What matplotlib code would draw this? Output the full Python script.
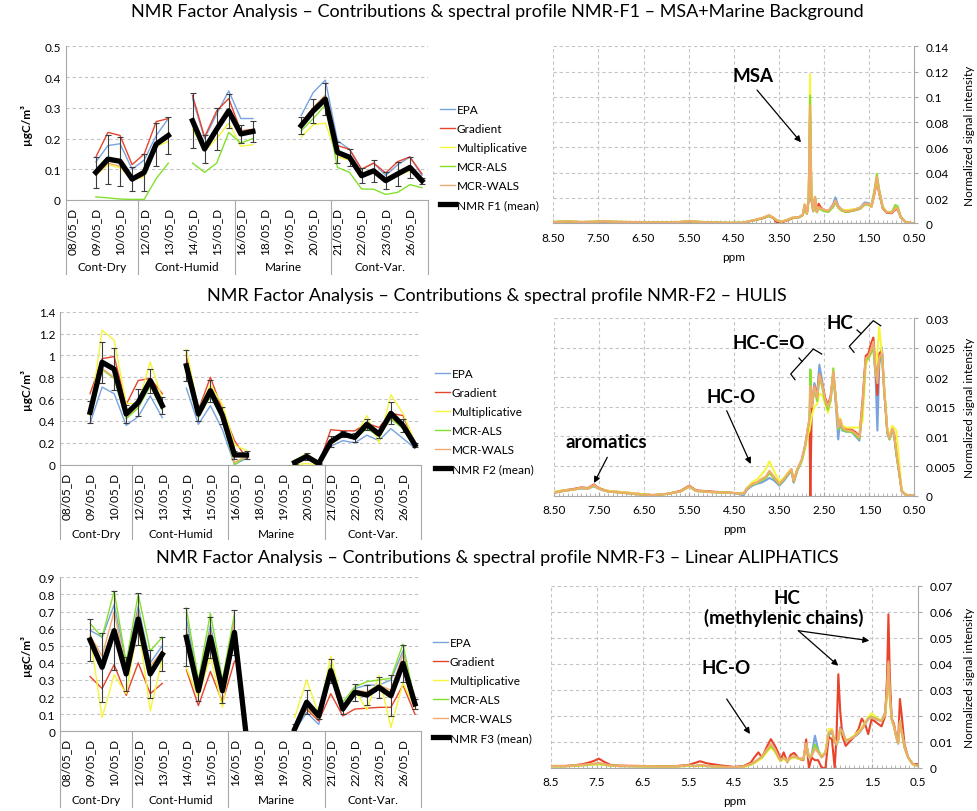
import matplotlib.pyplot as plt
import numpy as np
from matplotlib.lines import Line2D
from matplotlib.patches import FancyArrowPatch
from matplotlib.ticker import FuncFormatter, MultipleLocator

plt.rcParams['font.family'] = ['Lato', 'DejaVu Sans']

N = None

# categories of the contribution charts
dates = ['08/05_D', '08/05_N', '09/05_D', '09/05_N', '10/05_D', '10/05_N',
         '12/05_D', '12/05_N', '13/05_D', '13/05_N', '14/05_D', '14/05_N',
         '15/05_D', '15/05_N', '16/05_D', '16/05_N', '18/05_D', '18/05_N',
         '19/05_D', '19/05_N', '20/05_D', '20/05_N', '21/05_D', '21/05_N',
         '22/05_D', '22/05_N', '23/05_D', '23/05_N', '26/05_D', '26/05_N']
groups = ['Cont-Dry', 'Cont-Humid', 'Marine', 'Cont-Var.']
group_sizes = [6, 8, 8, 8]
methods = ['EPA', 'Gradient', 'Multiplicative', 'MCR-ALS', 'MCR-WALS']
colors = ['#78a3df', '#e8432b', '#f5f53a', '#84e02c', '#f2ab6e']

# NMR-F1 contributions (ugC/m3)
f1_epa = [N, N, 0.124, 0.177, 0.183, 0.10, 0.13, 0.21, 0.265, N, 0.33, 0.20, 0.28, 0.355, 0.265,
          0.265, N, N, N, 0.275, 0.35, 0.39, 0.193, 0.165, 0.10, 0.12, 0.08, 0.115, 0.14, 0.08]
f1_grad = [N, N, 0.14, 0.22, 0.21, 0.115, 0.15, 0.255, 0.265, N, 0.34, 0.205, 0.29, 0.33, 0.225,
           0.23, N, N, N, 0.25, 0.30, 0.34, 0.177, 0.165, 0.10, 0.12, 0.088, 0.125, 0.14, 0.085]
f1_mult = [N, N, 0.08, 0.115, 0.105, 0.065, 0.075, 0.175, 0.19, N, 0.23, 0.16, 0.20, 0.25, 0.175,
           0.18, N, N, N, 0.205, 0.245, 0.25, 0.14, 0.13, 0.08, 0.09, 0.06, 0.08, 0.095, 0.063]
f1_als = [N, N, 0.01, 0.007, 0.003, 0.002, 0.002, 0.07, 0.12, N, 0.12, 0.09, 0.12, 0.22, 0.185,
          0.20, N, N, N, 0.225, 0.265, 0.31, 0.106, 0.09, 0.036, 0.035, 0.018, 0.025, 0.05, 0.04]
f1_wals = [N, N, 0.08, 0.12, 0.11, 0.063, 0.08, 0.18, 0.20, N, 0.25, 0.165, 0.23, 0.28, 0.225,
           0.225, N, N, N, 0.25, 0.30, 0.34, 0.16, 0.14, 0.08, 0.10, 0.07, 0.09, 0.10, 0.07]
f1_mean = [N, N, 0.09, 0.133, 0.126, 0.068, 0.09, 0.182, 0.21, N, 0.258, 0.166, 0.23, 0.29, 0.215,
           0.223, N, N, N, 0.242, 0.29, 0.328, 0.155, 0.139, 0.079, 0.095, 0.063, 0.085, 0.106, 0.063]
f1_err = [N, N, 0.05, 0.08, 0.08, 0.04, 0.06, 0.07, 0.06, N, 0.09, 0.045, 0.068, 0.055, 0.03,
          0.033, N, N, N, 0.028, 0.04, 0.053, 0.035, 0.027, 0.024, 0.035, 0.027, 0.04, 0.033, 0.01]

# NMR-F2 contributions
f2_epa = [N, N, 0.38, 0.71, 0.65, 0.36, 0.44, 0.63, 0.43, N, 0.70, 0.37, 0.54, 0.32, 0.0,
          0.06, N, N, N, 0.01, 0.06, 0.0, 0.17, 0.22, 0.20, 0.27, 0.22, 0.33, 0.24, 0.15]
f2_grad = [N, N, 0.65, 0.97, 0.99, 0.55, 0.77, 0.79, 0.65, N, 1.0, 0.50, 0.80, 0.50, 0.22,
           0.06, N, N, N, 0.02, 0.07, 0.0, 0.32, 0.31, 0.31, 0.38, 0.34, 0.47, 0.45, 0.20]
f2_mult = [N, N, 0.45, 1.23, 1.14, 0.56, 0.56, 0.94, 0.60, N, 1.06, 0.50, 0.73, 0.55, 0.18,
           0.13, N, N, N, 0.0, 0.01, 0.0, 0.18, 0.27, 0.25, 0.45, 0.20, 0.64, 0.47, 0.20]
f2_als = [N, N, 0.46, 0.87, 0.79, 0.42, 0.52, 0.72, 0.50, N, 0.90, 0.43, 0.63, 0.42, 0.0,
          0.08, N, N, N, 0.04, 0.10, 0.0, 0.20, 0.26, 0.24, 0.33, 0.26, 0.42, 0.33, 0.17]
f2_wals = [N, N, 0.47, 0.88, 0.80, 0.44, 0.54, 0.74, 0.52, N, 0.90, 0.44, 0.65, 0.44, 0.02,
           0.08, N, N, N, 0.03, 0.08, 0.0, 0.20, 0.27, 0.25, 0.35, 0.27, 0.43, 0.35, 0.17]
f2_mean = [N, N, 0.48, 0.937, 0.875, 0.464, 0.57, 0.77, 0.54, N, 0.906, 0.464, 0.677, 0.45, 0.089,
           0.089, N, N, N, 0.02, 0.075, 0.01, 0.21, 0.28, 0.25, 0.37, 0.28, 0.47, 0.36, 0.18]
f2_err = [N, N, 0.10, 0.19, 0.19, 0.08, 0.12, 0.11, 0.08, N, 0.14, 0.06, 0.10, 0.08, 0.04,
          0.04, N, N, N, 0.01, 0.03, 0.005, 0.05, 0.03, 0.04, 0.05, 0.04, 0.10, 0.06, 0.02]

# NMR-F3 contributions
f3_epa = [N, N, 0.59, 0.55, 0.74, 0.40, 0.73, 0.40, 0.50, N, 0.66, 0.28, 0.62, 0.27, 0.65,
          N, N, N, N, 0.0, 0.11, 0.04, 0.33, 0.15, 0.25, 0.27, 0.27, 0.30, 0.47, 0.16]
f3_grad = [N, N, 0.32, 0.25, 0.39, 0.21, 0.40, 0.22, 0.28, N, 0.36, 0.15, 0.35, 0.17, 0.41,
           N, N, N, N, 0.02, 0.13, 0.06, 0.22, 0.09, 0.13, 0.135, 0.14, 0.14, 0.27, 0.10]
f3_mult = [N, N, 0.56, 0.08, 0.33, 0.22, 0.63, 0.12, 0.42, N, 0.37, 0.20, 0.44, 0.14, 0.58,
           N, N, N, N, 0.08, 0.30, 0.10, 0.44, 0.15, 0.24, 0.126, 0.325, 0.023, 0.282, 0.14]
f3_als = [N, N, 0.63, 0.55, 0.82, 0.40, 0.80, 0.47, 0.55, N, 0.72, 0.30, 0.69, 0.30, 0.69,
          N, N, N, N, 0.03, 0.14, 0.07, 0.387, 0.17, 0.26, 0.29, 0.30, 0.31, 0.51, 0.17]
f3_wals = [N, N, 0.56, 0.44, 0.70, 0.36, 0.70, 0.38, 0.47, N, 0.60, 0.25, 0.59, 0.25, 0.64,
           N, N, N, N, 0.01, 0.14, 0.07, 0.36, 0.14, 0.24, 0.23, 0.27, 0.24, 0.45, 0.16]
f3_mean = [N, N, 0.534, 0.374, 0.588, 0.335, 0.656, 0.335, 0.45, N, 0.55, 0.237, 0.55, 0.237, 0.578,
           -0.04, N, N, N, 0.013, 0.17, 0.09, 0.354, 0.13, 0.228, 0.212, 0.257, 0.208, 0.397, 0.16]
f3_err = [N, N, 0.125, 0.20, 0.23, 0.10, 0.15, 0.14, 0.10, N, 0.17, 0.06, 0.12, 0.07, 0.13,
          N, N, N, N, 0.03, 0.07, 0.02, 0.07, 0.03, 0.05, 0.06, 0.06, 0.12, 0.11, 0.03]

# NMR-F1 spectral profiles
ppm_f1 = [8.5, 8.2, 7.9, 7.6, 7.4, 7.2, 6.8, 6.4, 6.0, 5.7,
          5.5, 5.3, 5.0, 4.6, 4.3, 4.15, 4.0, 3.85, 3.72, 3.62,
          3.55, 3.45, 3.3, 3.2, 3.05, 2.97, 2.93, 2.88, 2.84, 2.81,
          2.78, 2.74, 2.70, 2.66, 2.62, 2.58, 2.5, 2.4, 2.3, 2.25,
          2.18, 2.1, 2.0, 1.85, 1.7, 1.6, 1.52, 1.45, 1.38, 1.33,
          1.28, 1.2, 1.12, 1.0, 0.92, 0.87, 0.8, 0.7, 0.6, 0.5]
s1_epa = [0.0010, 0.0014, 0.0010, 0.0011, 0.0016, 0.0012, 0.0010, 0.0008, 0.0007, 0.0009,
          0.0016, 0.0011, 0.0006, 0.0003, 0.0004, 0.0016, 0.0028, 0.0042, 0.0058, 0.0042,
          0.0022, 0.0012, 0.0028, 0.0043, 0.0050, 0.0068, 0.0145, 0.0080, 0.0190, 0.0900,
          0.0190, 0.0100, 0.0205, 0.0090, 0.0125, 0.0120, 0.0105, 0.0100, 0.0150, 0.0205,
          0.0135, 0.0108, 0.0098, 0.0108, 0.0125, 0.0165, 0.0160, 0.0135, 0.0245, 0.0360,
          0.0255, 0.0125, 0.0088, 0.0085, 0.0115, 0.0115, 0.0048, 0.0012, 0.0003, 0.0000]
s1_grad = [0.0009, 0.0013, 0.0009, 0.0011, 0.0016, 0.0011, 0.0009, 0.0008, 0.0006, 0.0009,
           0.0015, 0.0010, 0.0005, 0.0003, 0.0004, 0.0016, 0.0028, 0.0040, 0.0058, 0.0040,
           0.0008, 0.0005, 0.0025, 0.0040, 0.0048, 0.0065, 0.0140, 0.0075, 0.0190, 0.0850,
           0.0190, 0.0095, 0.0200, 0.0090, 0.0155, 0.0130, 0.0100, 0.0095, 0.0130, 0.0165,
           0.0125, 0.0100, 0.0090, 0.0100, 0.0115, 0.0150, 0.0150, 0.0130, 0.0235, 0.0340,
           0.0240, 0.0120, 0.0085, 0.0080, 0.0110, 0.0110, 0.0048, 0.0012, 0.0003, 0.0000]
s1_mult = [0.0012, 0.0016, 0.0011, 0.0013, 0.0019, 0.0013, 0.0011, 0.0009, 0.0008, 0.0011,
           0.0018, 0.0012, 0.0007, 0.0004, 0.0005, 0.0018, 0.0030, 0.0045, 0.0060, 0.0045,
           0.0025, 0.0013, 0.0030, 0.0045, 0.0050, 0.0070, 0.0150, 0.0080, 0.0220, 0.1180,
           0.0220, 0.0100, 0.0210, 0.0090, 0.0125, 0.0115, 0.0105, 0.0100, 0.0135, 0.0170,
           0.0125, 0.0108, 0.0105, 0.0110, 0.0120, 0.0150, 0.0150, 0.0130, 0.0245, 0.0360,
           0.0255, 0.0130, 0.0092, 0.0088, 0.0120, 0.0118, 0.0050, 0.0012, 0.0003, 0.0000]
s1_als = [0.0010, 0.0015, 0.0010, 0.0012, 0.0018, 0.0012, 0.0010, 0.0008, 0.0007, 0.0010,
          0.0017, 0.0012, 0.0006, 0.0003, 0.0004, 0.0017, 0.0028, 0.0042, 0.0062, 0.0043,
          0.0023, 0.0012, 0.0028, 0.0043, 0.0048, 0.0065, 0.0140, 0.0075, 0.0200, 0.1010,
          0.0200, 0.0095, 0.0200, 0.0085, 0.0120, 0.0110, 0.0095, 0.0090, 0.0130, 0.0175,
          0.0120, 0.0098, 0.0090, 0.0100, 0.0115, 0.0150, 0.0150, 0.0135, 0.0270, 0.0390,
          0.0270, 0.0130, 0.0090, 0.0088, 0.0145, 0.0135, 0.0055, 0.0012, 0.0003, 0.0000]
s1_wals = [0.0010, 0.0015, 0.0010, 0.0012, 0.0018, 0.0012, 0.0010, 0.0008, 0.0007, 0.0010,
           0.0018, 0.0012, 0.0006, 0.0003, 0.0004, 0.0018, 0.0030, 0.0045, 0.0065, 0.0045,
           0.0025, 0.0012, 0.0030, 0.0045, 0.0050, 0.0070, 0.0150, 0.0080, 0.0200, 0.0930,
           0.0200, 0.0100, 0.0210, 0.0090, 0.0130, 0.0120, 0.0105, 0.0100, 0.0140, 0.0180,
           0.0130, 0.0105, 0.0095, 0.0105, 0.0120, 0.0155, 0.0155, 0.0135, 0.0250, 0.0370,
           0.0260, 0.0130, 0.0090, 0.0085, 0.0120, 0.0120, 0.0050, 0.0012, 0.0003, 0.0000]

# NMR-F2 spectral profiles
ppm_f2 = [8.5, 8.3, 8.1, 7.9, 7.75, 7.62, 7.55, 7.45, 7.3, 7.0,
          6.6, 6.3, 6.0, 5.7, 5.5, 5.35, 5.0, 4.6, 4.38, 4.3,
          4.22, 4.1, 4.0, 3.9, 3.8, 3.72, 3.62, 3.5, 3.4, 3.3,
          3.23, 3.18, 3.1, 3.0, 2.92, 2.86, 2.83, 2.81, 2.78, 2.72,
          2.66, 2.61, 2.55, 2.48, 2.42, 2.36, 2.3, 2.24, 2.19, 2.15,
          2.1, 2.0, 1.9, 1.8, 1.72, 1.65, 1.58, 1.52, 1.47, 1.41,
          1.36, 1.32, 1.28, 1.22, 1.17, 1.1, 1.05, 0.99, 0.95, 0.9,
          0.85, 0.78, 0.7, 0.6, 0.5]
s2_epa = [0.0005, 0.0008, 0.0010, 0.0012, 0.0012, 0.0016, 0.0013, 0.0010, 0.0007, 0.0005,
          0.0002, 0.0001, 0.0003, 0.0007, 0.0015, 0.0008, 0.0006, 0.0005, 0.0003, 0.0000,
          0.0010, 0.0017, 0.0020, 0.0022, 0.0026, 0.0030, 0.0026, 0.0017, 0.0025, 0.0035,
          0.0042, 0.0022, 0.0042, 0.0058, 0.0085, 0.0115, 0.0125, 0.0160, 0.0150, 0.0190,
          0.0170, 0.0221, 0.0195, 0.0160, 0.0148, 0.0160, 0.0205, 0.0150, 0.0095, 0.0125,
          0.0110, 0.0108, 0.0108, 0.0100, 0.0093, 0.0150, 0.0230, 0.0232, 0.0240, 0.0250,
          0.0200, 0.0110, 0.0220, 0.0250, 0.0180, 0.0105, 0.0095, 0.0110, 0.0102, 0.0070,
          0.0045, 0.0008, 0.0002, 0.0000, 0.0000]
s2_grad = [0.0006, 0.0009, 0.0011, 0.0014, 0.0013, 0.0019, 0.0015, 0.0011, 0.0008, 0.0006,
           0.0003, 0.0001, 0.0003, 0.0008, 0.0017, 0.0009, 0.0007, 0.0005, 0.0004, 0.0003,
           0.0012, 0.0020, 0.0022, 0.0027, 0.0031, 0.0040, 0.0031, 0.0020, 0.0028, 0.0038,
           0.0044, 0.0024, 0.0044, 0.0060, 0.0086, 0.0115, 0.0120, 0.0000, 0.0145, 0.0185,
           0.0165, 0.0205, 0.0190, 0.0165, 0.0153, 0.0168, 0.0205, 0.0160, 0.0118, 0.0130,
           0.0117, 0.0112, 0.0112, 0.0107, 0.0100, 0.0160, 0.0236, 0.0240, 0.0255, 0.0267,
           0.0215, 0.0170, 0.0240, 0.0245, 0.0180, 0.0110, 0.0098, 0.0113, 0.0105, 0.0075,
           0.0048, 0.0008, 0.0002, 0.0000, 0.0000]
s2_mult = [0.0006, 0.0009, 0.0010, 0.0013, 0.0012, 0.0017, 0.0014, 0.0010, 0.0008, 0.0006,
           0.0003, 0.0001, 0.0003, 0.0007, 0.0015, 0.0008, 0.0006, 0.0005, 0.0004, 0.0003,
           0.0013, 0.0023, 0.0027, 0.0035, 0.0045, 0.0058, 0.0042, 0.0024, 0.0030, 0.0040,
           0.0045, 0.0026, 0.0044, 0.0058, 0.0082, 0.0105, 0.0110, 0.0120, 0.0135, 0.0150,
           0.0155, 0.0172, 0.0170, 0.0155, 0.0140, 0.0160, 0.0205, 0.0160, 0.0120, 0.0130,
           0.0118, 0.0115, 0.0115, 0.0115, 0.0115, 0.0125, 0.0220, 0.0232, 0.0240, 0.0250,
           0.0220, 0.0240, 0.0285, 0.0240, 0.0185, 0.0115, 0.0100, 0.0118, 0.0115, 0.0110,
           0.0070, 0.0010, 0.0002, 0.0000, 0.0000]
s2_als = [0.0005, 0.0008, 0.0010, 0.0013, 0.0012, 0.0017, 0.0014, 0.0010, 0.0007, 0.0005,
          0.0002, 0.0001, 0.0003, 0.0007, 0.0016, 0.0008, 0.0006, 0.0005, 0.0004, 0.0003,
          0.0012, 0.0019, 0.0021, 0.0026, 0.0030, 0.0038, 0.0030, 0.0019, 0.0027, 0.0037,
          0.0043, 0.0024, 0.0043, 0.0060, 0.0086, 0.0115, 0.0130, 0.0213, 0.0150, 0.0180,
          0.0160, 0.0200, 0.0185, 0.0158, 0.0145, 0.0162, 0.0215, 0.0158, 0.0112, 0.0125,
          0.0112, 0.0108, 0.0108, 0.0102, 0.0096, 0.0150, 0.0228, 0.0232, 0.0240, 0.0250,
          0.0205, 0.0200, 0.0232, 0.0238, 0.0178, 0.0108, 0.0095, 0.0112, 0.0103, 0.0072,
          0.0046, 0.0008, 0.0002, 0.0000, 0.0000]
s2_wals = [0.0005, 0.0008, 0.0010, 0.0013, 0.0012, 0.0018, 0.0014, 0.0010, 0.0007, 0.0005,
           0.0002, 0.0001, 0.0003, 0.0007, 0.0016, 0.0008, 0.0006, 0.0005, 0.0004, 0.0003,
           0.0012, 0.0020, 0.0022, 0.0028, 0.0032, 0.0042, 0.0032, 0.0020, 0.0028, 0.0038,
           0.0045, 0.0025, 0.0045, 0.0062, 0.0088, 0.0118, 0.0130, 0.0185, 0.0150, 0.0185,
           0.0165, 0.0205, 0.0190, 0.0162, 0.0150, 0.0165, 0.0210, 0.0160, 0.0115, 0.0128,
           0.0115, 0.0110, 0.0110, 0.0105, 0.0098, 0.0155, 0.0232, 0.0235, 0.0245, 0.0260,
           0.0210, 0.0190, 0.0235, 0.0240, 0.0180, 0.0110, 0.0097, 0.0113, 0.0105, 0.0075,
           0.0048, 0.0008, 0.0002, 0.0000, 0.0000]

# NMR-F3 spectral profiles
ppm_f3 = [8.5, 8.2, 8.0, 7.8, 7.65, 7.55, 7.45, 7.35, 7.2, 7.0,
          6.6, 6.2, 5.8, 5.5, 5.35, 5.25, 5.1, 4.8, 4.5, 4.3,
          4.15, 4.05, 3.98, 3.9, 3.8, 3.71, 3.62, 3.55, 3.5, 3.43,
          3.35, 3.28, 3.2, 3.1, 3.0, 2.94, 2.88, 2.82, 2.75, 2.68,
          2.6, 2.52, 2.45, 2.38, 2.32, 2.28, 2.24, 2.2, 2.15, 2.08,
          2.0, 1.9, 1.8, 1.73, 1.66, 1.59, 1.52, 1.45, 1.38, 1.3,
          1.22, 1.18, 1.15, 1.12, 1.08, 1.03, 0.98, 0.94, 0.9, 0.86,
          0.8, 0.72, 0.62, 0.5]
s3_epa = [0.0006, 0.0006, 0.0008, 0.0010, 0.0012, 0.0014, 0.0015, 0.0012, 0.0009, 0.0007,
          0.0006, 0.0005, 0.0005, 0.0009, 0.0007, 0.0010, 0.0007, 0.0004, 0.0003, 0.0005,
          0.0013, 0.0022, 0.0032, 0.0042, 0.0068, 0.0090, 0.0070, 0.0042, 0.0028, 0.0038,
          0.0027, 0.0038, 0.0043, 0.0036, 0.0033, 0.0090, 0.0045, 0.0050, 0.0124, 0.0070,
          0.0042, 0.0058, 0.0125, 0.0140, 0.0098, 0.0088, 0.0110, 0.0155, 0.0145, 0.0105,
          0.0108, 0.0118, 0.0132, 0.0148, 0.0168, 0.0188, 0.0195, 0.0190, 0.0185, 0.0180,
          0.0215, 0.0310, 0.0430, 0.0290, 0.0190, 0.0160, 0.0120, 0.0093, 0.0170, 0.0135,
          0.0078, 0.0040, 0.0015, 0.0007]
s3_grad = [0.0008, 0.0008, 0.0010, 0.0015, 0.0022, 0.0028, 0.0036, 0.0025, 0.0012, 0.0009,
           0.0008, 0.0007, 0.0007, 0.0012, 0.0020, 0.0026, 0.0018, 0.0010, 0.0004, 0.0008,
           0.0020, 0.0045, 0.0060, 0.0040, 0.0080, 0.0111, 0.0085, 0.0060, 0.0030, 0.0060,
           0.0022, 0.0050, 0.0058, 0.0035, 0.0030, 0.0110, 0.0000, 0.0040, 0.0030, 0.0030,
           0.0000, 0.0000, 0.0120, 0.0110, 0.0000, 0.0120, 0.0360, 0.0220, 0.0120, 0.0085,
           0.0100, 0.0120, 0.0150, 0.0190, 0.0170, 0.0130, 0.0185, 0.0180, 0.0170, 0.0160,
           0.0200, 0.0350, 0.0590, 0.0350, 0.0190, 0.0170, 0.0120, 0.0100, 0.0265, 0.0200,
           0.0090, 0.0040, 0.0015, 0.0015]
s3_mult = [0.0006, 0.0006, 0.0008, 0.0010, 0.0012, 0.0013, 0.0014, 0.0012, 0.0009, 0.0007,
           0.0006, 0.0005, 0.0005, 0.0008, 0.0007, 0.0009, 0.0007, 0.0004, 0.0002, 0.0004,
           0.0012, 0.0020, 0.0028, 0.0038, 0.0060, 0.0079, 0.0062, 0.0040, 0.0026, 0.0035,
           0.0025, 0.0036, 0.0040, 0.0035, 0.0033, 0.0090, 0.0045, 0.0050, 0.0080, 0.0065,
           0.0045, 0.0062, 0.0150, 0.0150, 0.0105, 0.0095, 0.0110, 0.0145, 0.0140, 0.0108,
           0.0112, 0.0125, 0.0140, 0.0155, 0.0175, 0.0195, 0.0210, 0.0200, 0.0190, 0.0182,
           0.0205, 0.0280, 0.0370, 0.0265, 0.0185, 0.0158, 0.0118, 0.0095, 0.0170, 0.0135,
           0.0078, 0.0038, 0.0014, 0.0007]
s3_als = [0.0007, 0.0007, 0.0009, 0.0012, 0.0014, 0.0016, 0.0018, 0.0014, 0.0010, 0.0008,
          0.0007, 0.0006, 0.0006, 0.0010, 0.0008, 0.0011, 0.0008, 0.0005, 0.0003, 0.0006,
          0.0014, 0.0024, 0.0033, 0.0043, 0.0066, 0.0085, 0.0068, 0.0043, 0.0029, 0.0039,
          0.0028, 0.0039, 0.0044, 0.0037, 0.0034, 0.0092, 0.0040, 0.0048, 0.0090, 0.0065,
          0.0042, 0.0060, 0.0132, 0.0142, 0.0100, 0.0090, 0.0108, 0.0150, 0.0140, 0.0105,
          0.0110, 0.0120, 0.0135, 0.0150, 0.0170, 0.0190, 0.0198, 0.0192, 0.0186, 0.0180,
          0.0210, 0.0295, 0.0400, 0.0275, 0.0188, 0.0160, 0.0120, 0.0095, 0.0180, 0.0140,
          0.0080, 0.0040, 0.0015, 0.0008]
s3_wals = [0.0007, 0.0007, 0.0009, 0.0012, 0.0015, 0.0017, 0.0020, 0.0015, 0.0010, 0.0008,
           0.0007, 0.0006, 0.0006, 0.0010, 0.0008, 0.0012, 0.0008, 0.0005, 0.0003, 0.0006,
           0.0015, 0.0025, 0.0035, 0.0045, 0.0070, 0.0092, 0.0072, 0.0045, 0.0030, 0.0040,
           0.0028, 0.0040, 0.0045, 0.0038, 0.0035, 0.0095, 0.0040, 0.0045, 0.0075, 0.0060,
           0.0040, 0.0060, 0.0135, 0.0145, 0.0100, 0.0090, 0.0110, 0.0150, 0.0140, 0.0105,
           0.0110, 0.0120, 0.0135, 0.0150, 0.0170, 0.0190, 0.0195, 0.0190, 0.0185, 0.0180,
           0.0210, 0.0300, 0.0410, 0.0280, 0.0190, 0.0160, 0.0120, 0.0095, 0.0180, 0.0140,
           0.0080, 0.0040, 0.0015, 0.0008]

titles = ['NMR Factor Analysis \u2013 Contributions & spectral profile NMR-F1 \u2013 MSA+Marine Background',
          'NMR Factor Analysis \u2013 Contributions & spectral profile NMR-F2 \u2013 HULIS',
          'NMR Factor Analysis \u2013 Contributions & spectral profile NMR-F3 \u2013 Linear ALIPHATICS']

W, H = 977, 812
fig = plt.figure(figsize=(W / 100, H / 100), dpi=100)
GRID = '#c4c4c4'
AXIS = '#a8a8a8'
FS = 8.5


def rect(x0, y0, x1, y1):
    return [x0 / W, 1 - y1 / H, (x1 - x0) / W, (y1 - y0) / H]


def fxy(x, y):
    return (x / W, 1 - y / H)


def num(v, _=None):
    return f'{round(v, 4):g}'


def contributions(box, lines, mean, err, ymax, step, mean_name, leg_xy, bottom_px, group_px):
    x0, y0, x1, y1 = box
    ax = fig.add_axes(rect(*box))
    x = np.arange(len(dates))
    for vals, name, col in zip(lines, methods, colors):
        ax.plot(x, np.array(vals, dtype=float), color=col, lw=1.0, label=name, zorder=2)
    m = np.array(mean, dtype=float)
    ax.errorbar(x, m, yerr=np.array(err, dtype=float), fmt='none', ecolor='#3c3c3c',
                elinewidth=0.8, capsize=2, capthick=0.8, zorder=3)
    ax.plot(x, m, color='black', lw=3.8, label=mean_name, zorder=4)
    ax.set_xlim(-0.5, len(dates) - 0.5)
    ax.set_ylim(0, ymax)
    ax.yaxis.set_major_locator(MultipleLocator(step))
    ax.yaxis.set_major_formatter(FuncFormatter(num))
    ax.grid(axis='y', ls=(0, (3, 2.5)), color=GRID, lw=0.8)
    ax.set_axisbelow(True)
    for s in ['top', 'right']:
        ax.spines[s].set_visible(False)
    for s in ['left', 'bottom']:
        ax.spines[s].set_color(AXIS)
    ax.tick_params(axis='both', length=0, labelsize=FS)
    ax.tick_params(axis='x', pad=5)
    ax.set_xticks(x[::2], dates[::2], rotation=90)
    h = y1 - y0
    yb = -(bottom_px - y1) / h
    yg = -(group_px - y1) / h
    edges = np.concatenate([[0], np.cumsum(group_sizes)]) - 0.5
    for e in edges:
        ax.plot([e, e], [0, yb], transform=ax.get_xaxis_transform(), color=AXIS,
                lw=0.8, clip_on=False)
    for g, a, b in zip(groups, edges[:-1], edges[1:]):
        ax.text((a + b) / 2, yg, g, transform=ax.get_xaxis_transform(),
                ha='center', va='center', fontsize=FS)
    ax.set_ylabel('\u00b5gC/m\u00b3', fontsize=FS, fontweight='bold')
    ax.yaxis.set_label_coords((32 - x0) / (x1 - x0), 0.5)
    ax.legend(loc='center left', bbox_to_anchor=fxy(*leg_xy), bbox_transform=fig.transFigure,
              frameon=False, fontsize=FS, handlelength=1.3, handletextpad=0.1,
              labelspacing=0.68, borderpad=0, borderaxespad=0)
    return ax


def spectrum(box, ppm, lines, ymax, step, xfmt, ppm_px):
    x0, y0, x1, y1 = box
    ax = fig.add_axes(rect(*box))
    for vals, col in zip(lines, colors):
        ax.plot(ppm, vals, color=col, lw=1.5, zorder=2)
    ax.set_xlim(8.5, 0.5)
    ax.set_ylim(0, ymax)
    xt = np.arange(8.5, 0.4, -1.0)
    ax.set_xticks(xt, [xfmt.format(v) for v in xt])
    ax.xaxis.set_minor_locator(MultipleLocator(0.1))
    ax.yaxis.set_major_locator(MultipleLocator(step))
    ax.yaxis.set_major_formatter(FuncFormatter(num))
    ax.yaxis.tick_right()
    ax.yaxis.set_label_position('right')
    ax.grid(True, which='major', ls=(0, (3, 2.5)), color=GRID, lw=0.8)
    ax.set_axisbelow(True)
    for s in ['top', 'left']:
        ax.spines[s].set_visible(False)
    for s in ['right', 'bottom']:
        ax.spines[s].set_color(AXIS)
    ax.tick_params(axis='x', which='major', direction='in', length=3, color=AXIS,
                   labelsize=FS, pad=6)
    ax.tick_params(axis='x', which='minor', direction='in', length=2, color=AXIS)
    ax.tick_params(axis='y', which='major', direction='out', length=3, color=AXIS,
                   labelsize=FS, pad=5)
    ax.set_ylabel('Normalized signal intensity', fontsize=FS)
    ax.yaxis.set_label_coords((964 - x0) / (x1 - x0), 0.5)
    ax.set_xlabel('ppm', fontsize=FS)
    ax.xaxis.set_label_coords(0.5, -(ppm_px - y1) / (y1 - y0))
    return ax


def arrow(p0, p1):
    fig.add_artist(FancyArrowPatch(fxy(*p0), fxy(*p1), transform=fig.transFigure,
                                   arrowstyle='-|>', mutation_scale=9, lw=0.9,
                                   color='black', shrinkA=0, shrinkB=0))


def label(x, y, s):
    fig.text(*fxy(x, y), s, ha='center', va='center', fontsize=13.5, fontweight='bold')


def bracket(pts, nub):
    for seg in (pts, nub):
        xs, ys = zip(*[fxy(*p) for p in seg])
        fig.add_artist(Line2D(xs, ys, transform=fig.transFigure, color='black', lw=0.9))


# titles
for t, ty in zip(titles, [12, 296, 558]):
    fig.text(*fxy(497, ty), t, ha='center', va='center', fontsize=13)

# row 1
contributions((65.7, 47.3, 428, 201), [f1_epa, f1_grad, f1_mult, f1_als, f1_wals],
              f1_mean, f1_err, 0.5, 0.1, 'NMR F1 (mean)', (440, 158.3), 275, 268)
spectrum((553.3, 47.3, 914.3, 224.3), ppm_f1, [s1_epa, s1_grad, s1_mult, s1_als, s1_wals],
         0.14, 0.02, '{:.2f}', 252)
label(753, 76.7, 'MSA')
arrow((757, 91), (801, 143.3))

# row 2
contributions((60, 312.7, 421, 465.7), [f2_epa, f2_grad, f2_mult, f2_als, f2_wals],
              f2_mean, f2_err, 1.4, 0.2, 'NMR F2 (mean)', (435, 422), 540, 534.3)
spectrum((554.3, 319, 914.3, 496.7), ppm_f2, [s2_epa, s2_grad, s2_mult, s2_als, s2_wals],
         0.03, 0.005, '{:.2f}', 524)
label(606, 442.7, 'aromatics')
arrow((607.3, 458.3), (594, 484))
label(730.7, 397.7, 'HC-O')
arrow((726.7, 411.7), (750.7, 465))
label(768.3, 343.3, 'HC-C=O')
bracket([(795, 380.7), (790.7, 375), (813.3, 350), (821.7, 355)], [(802, 362.5), (799, 359)])
label(840, 323.3, 'HC')
bracket([(854, 353.3), (849.3, 347.3), (873.3, 321.7), (880.7, 326.7)], [(861, 334.5), (857, 331)])

# row 3
contributions((60, 578.3, 421, 732.3), [f3_epa, f3_grad, f3_mult, f3_als, f3_wals],
              f3_mean, f3_err, 0.9, 0.1, 'NMR F3 (mean)', (433, 690.8), 808, 800.7)
spectrum((550.7, 586.7, 918.3, 769), ppm_f3, [s3_epa, s3_grad, s3_mult, s3_als, s3_wals],
         0.07, 0.01, '{:.1f}', 796)
label(786.7, 598.3, 'HC')
label(783.3, 618.3, '(methylenic chains)')
arrow((798.3, 631.7), (838.3, 666.7))
arrow((798.3, 631.7), (869.3, 641.7))
label(726, 668.3, 'HC-O')
arrow((726.7, 700), (750, 735))

fig.savefig('out.png', dpi=100)
